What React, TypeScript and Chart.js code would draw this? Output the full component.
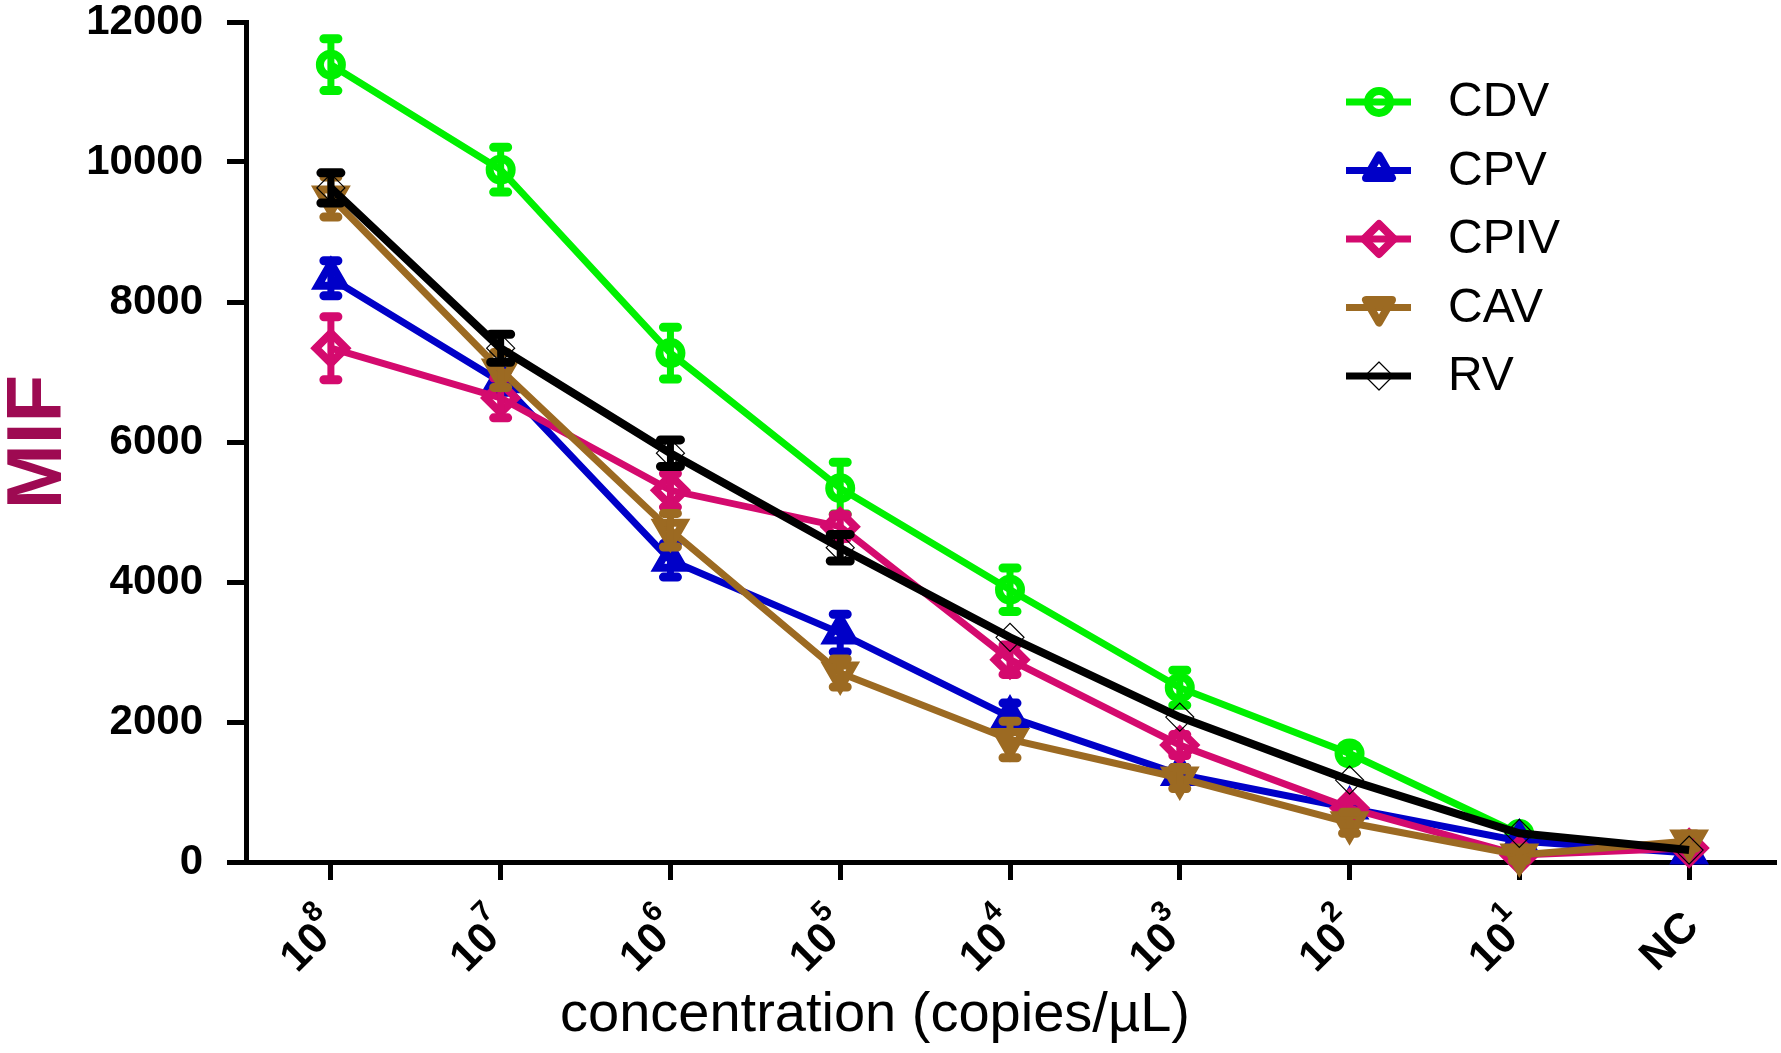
import React, { useEffect, useRef } from 'react';
import { Chart, registerables } from 'chart.js';
import type { Plugin } from 'chart.js';
import { drawPoint } from 'chart.js/helpers';

Chart.register(...registerables);

// concentration categories (base^exponent), NC = negative control
const categories = ['10^8', '10^7', '10^6', '10^5', '10^4', '10^3', '10^2', '10^1', 'NC'];
const yTicks = [0, 2000, 4000, 6000, 8000, 10000, 12000];
const seriesNames = ['CDV', 'CPV', 'CPIV', 'CAV', 'RV'];

// mean MIF values
const cdvValues = [11390, 9890, 7270, 5340, 3890, 2490, 1550, 400, 170];
const cpvValues = [8340, 6860, 4310, 3270, 2070, 1250, 770, 300, 130];
const cpivValues = [7340, 6630, 5310, 4790, 2890, 1670, 770, 100, 200];
const cavValues = [9500, 7030, 4740, 2700, 1750, 1200, 560, 100, 300];
const rvValues = [9630, 7340, 5840, 4490, 3210, 2070, 1170, 410, 170];

// error bar half-lengths (+/-)
const cdvErrors = [370, 320, 370, 370, 310, 250, 110, 0, 0];
const cpvErrors = [250, 150, 240, 270, 200, 100, 80, 0, 0];
const cpivErrors = [450, 285, 240, 170, 210, 150, 100, 0, 0];
const cavErrors = [285, 250, 240, 200, 260, 150, 150, 80, 100];
const rvErrors = [215, 200, 190, 190, 0, 0, 0, 0, 0];

const FONT = '"Liberation Sans", Arial, Helvetica, sans-serif';

const seriesValues = [cdvValues, cpvValues, cpivValues, cavValues, rvValues];
const seriesErrors = [cdvErrors, cpvErrors, cpivErrors, cavErrors, rvErrors];
const seriesColors = ['#00F000', '#0000C8', '#D40A6E', '#9C6A22', '#000000'];
const seriesStyles: { pointStyle: any; radius: number; border: number; rotation: number; line: number; cap: number }[] = [
  { pointStyle: 'circle', radius: 11, border: 8, rotation: 0, line: 7, cap: 7 },
  { pointStyle: 'triangle', radius: 15, border: 8, rotation: 0, line: 7, cap: 7 },
  { pointStyle: 'rectRot', radius: 15, border: 8, rotation: 0, line: 7, cap: 7 },
  { pointStyle: 'triangle', radius: 15, border: 8, rotation: 180, line: 7, cap: 7 },
  { pointStyle: 'rectRot', radius: 14, border: 1.2, rotation: 0, line: 8, cap: 10 },
];

const errorBarPlugin: Plugin<'line'> = {
  id: 'errorBars',
  afterDatasetDraw(chart, args) {
    const errs = seriesErrors[args.index];
    const values = seriesValues[args.index];
    const style = seriesStyles[args.index];
    const y = chart.scales.y;
    const ctx = chart.ctx;
    ctx.save();
    ctx.strokeStyle = seriesColors[args.index];
    ctx.lineCap = 'round';
    args.meta.data.forEach((pt: any, i: number) => {
      const e = errs[i];
      if (!e) return;
      const top = y.getPixelForValue(values[i] + e);
      const bot = y.getPixelForValue(values[i] - e);
      ctx.lineWidth = 7;
      ctx.beginPath();
      ctx.moveTo(pt.x, top);
      ctx.lineTo(pt.x, bot);
      ctx.stroke();
      ctx.lineWidth = 9;
      ctx.beginPath();
      ctx.moveTo(pt.x - style.cap, top);
      ctx.lineTo(pt.x + style.cap, top);
      ctx.moveTo(pt.x - style.cap, bot);
      ctx.lineTo(pt.x + style.cap, bot);
      ctx.stroke();
    });
    ctx.restore();
  },
};

const decorPlugin: Plugin<'line'> = {
  id: 'decor',
  afterDraw(chart) {
    const ctx = chart.ctx;
    const x = chart.scales.x;
    const area = chart.chartArea;
    ctx.save();
    ctx.fillStyle = '#000';

    // rotated category labels with superscript exponents
    categories.forEach((label, i) => {
      const [base, exp = ''] = label.split('^');
      const px = x.getPixelForTick(i);
      ctx.save();
      ctx.translate(px + 1, area.bottom + 56);
      ctx.rotate(-Math.PI / 4);
      ctx.font = `bold 43px ${FONT}`;
      const wb = ctx.measureText(base).width;
      ctx.font = `bold 29px ${FONT}`;
      const we = exp ? ctx.measureText(exp).width : 0;
      const start = -(wb + we);
      ctx.textAlign = 'left';
      ctx.textBaseline = 'alphabetic';
      ctx.font = `bold 43px ${FONT}`;
      ctx.fillText(base, start, 15);
      if (exp) {
        ctx.font = `bold 29px ${FONT}`;
        ctx.fillText(exp, start + wb - 1, -9);
      }
      ctx.restore();
    });

    // x axis title
    ctx.font = `56px ${FONT}`;
    ctx.textAlign = 'center';
    ctx.textBaseline = 'alphabetic';
    ctx.fillText('concentration (copies/\u00B5L)', 875, 1031);

    // legend
    const lx1 = 1346;
    const lx2 = 1411;
    const mx = 1379;
    const tx = 1448;
    chart.data.datasets.forEach((_ds, i) => {
      const cy = 102 + i * 68.5;
      const st = seriesStyles[i];
      ctx.strokeStyle = seriesColors[i];
      ctx.lineWidth = 7;
      ctx.lineCap = 'butt';
      ctx.beginPath();
      ctx.moveTo(lx1, cy);
      ctx.lineTo(lx2, cy);
      ctx.stroke();
      ctx.lineWidth = st.border;
      ctx.lineJoin = 'round';
      ctx.fillStyle = 'rgba(0,0,0,0)';
      drawPoint(ctx, { pointStyle: st.pointStyle, rotation: st.rotation, radius: st.radius, borderWidth: st.border } as any, mx, cy);
      ctx.fillStyle = '#000';
      ctx.font = `48px ${FONT}`;
      ctx.textAlign = 'left';
      ctx.textBaseline = 'middle';
      ctx.fillText(seriesNames[i], tx, cy + 1);
    });
    ctx.restore();
  },
};

const App: React.FC = () => {
  const chartRef = useRef<HTMLCanvasElement>(null);
  const chartInstance = useRef<Chart | null>(null);

  useEffect(() => {
    document.body.style.margin = '0';
    document.body.style.overflow = 'hidden';
    if (!chartRef.current) return;
    if (chartInstance.current) chartInstance.current.destroy();

    const datasets = seriesNames.map((name, i) => ({
      label: name,
      data: seriesValues[i],
      borderColor: seriesColors[i],
      borderWidth: seriesStyles[i].line,
      pointStyle: seriesStyles[i].pointStyle,
      pointRadius: seriesStyles[i].radius,
      pointBorderWidth: seriesStyles[i].border,
      pointRotation: seriesStyles[i].rotation,
      pointBorderColor: seriesColors[i],
      pointBackgroundColor: 'rgba(0,0,0,0)',
      tension: 0,
      fill: false,
      clip: false as any,
      order: seriesNames.length - i,
    }));

    chartInstance.current = new Chart(chartRef.current, {
      type: 'line',
      data: { labels: categories, datasets },
      options: {
        animation: false,
        responsive: true,
        maintainAspectRatio: false,
        layout: { autoPadding: false, padding: { top: 1, right: 7, left: 0, bottom: 0 } },
        plugins: { legend: { display: false }, tooltip: { enabled: false } },
        scales: {
          x: {
            type: 'category',
            offset: true,
            grid: { drawOnChartArea: false, drawTicks: true, tickLength: 18, lineWidth: 5, color: '#000' },
            border: { display: true, width: 5, color: '#000' },
            ticks: { display: false },
            afterFit: (s: any) => {
              s.height = 191;
            },
          },
          y: {
            min: 0,
            max: 12000,
            afterBuildTicks: (s: any) => {
              s.ticks = yTicks.map((v) => ({ value: v }));
            },
            grid: { drawOnChartArea: false, drawTicks: true, tickLength: 19, lineWidth: 5, color: '#000' },
            border: { display: true, width: 5, color: '#000' },
            ticks: {
              color: '#000',
              padding: 24,
              font: { family: FONT, size: 42, weight: 'bold', lineHeight: 1 },
              callback: (v: any) => String(v),
            },
            title: {
              display: true,
              text: 'MIF',
              color: '#9E0A52',
              font: { family: FONT, size: 78, weight: 'bold', lineHeight: 1.0 },
              padding: 0,
            },
            afterFit: (s: any) => {
              s.width = 246;
              s.paddingTop = 22;
              s.paddingBottom = 22;
            },
          },
        },
      },
      plugins: [errorBarPlugin, decorPlugin],
    });

    return () => {
      if (chartInstance.current) {
        chartInstance.current.destroy();
        chartInstance.current = null;
      }
    };
  }, []);

  return (
    <div style={{ width: 1781, height: 1053, position: 'relative', background: '#fff' }}>
      <canvas ref={chartRef}></canvas>
    </div>
  );
};

export default App;
